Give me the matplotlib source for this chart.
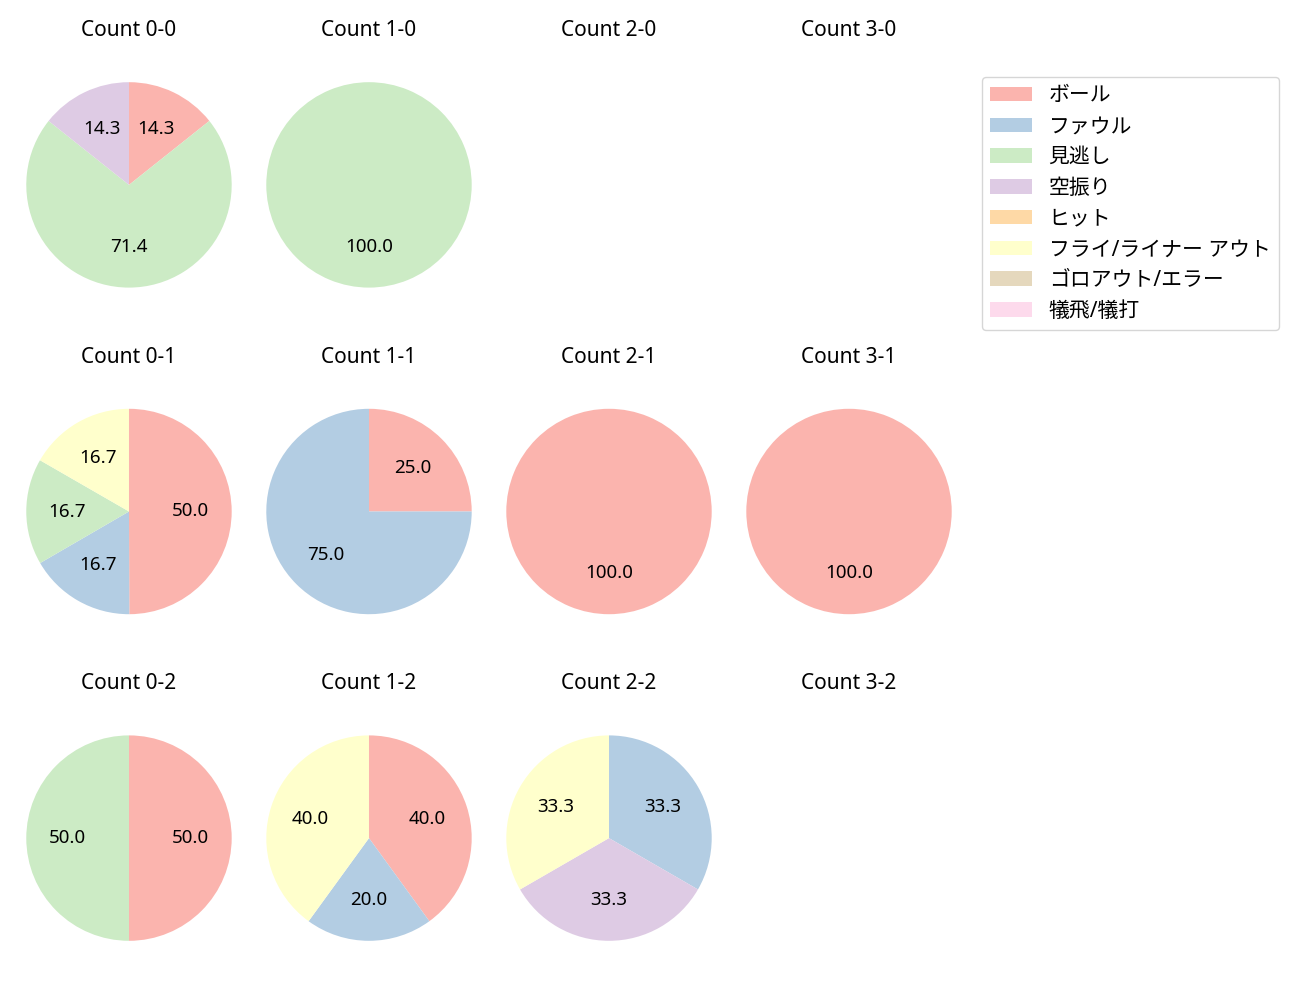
import matplotlib
matplotlib.use("Agg")
import matplotlib.pyplot as plt
from matplotlib.patches import Patch

plt.rcParams['font.family'] = ['Noto Sans', 'Noto Sans CJK JP', 'DejaVu Sans']

categories = ['ボール', 'ファウル', '見逃し', '空振り', 'ヒット',
              'フライ/ライナー アウト', 'ゴロアウト/エラー', '犠飛/犠打']
colors = plt.get_cmap('Pastel1').colors[:8]

balls = [0, 1, 2, 3]
strikes = [0, 1, 2]

# percentages per count "balls-strikes", in category order
count_values = {
    '0-0': [14.3, 0, 71.4, 14.3, 0, 0, 0, 0],
    '1-0': [0, 0, 100.0, 0, 0, 0, 0, 0],
    '2-0': None,
    '3-0': None,
    '0-1': [50.0, 16.7, 16.7, 0, 0, 16.7, 0, 0],
    '1-1': [25.0, 75.0, 0, 0, 0, 0, 0, 0],
    '2-1': [100.0, 0, 0, 0, 0, 0, 0, 0],
    '3-1': [100.0, 0, 0, 0, 0, 0, 0, 0],
    '0-2': [50.0, 0, 50.0, 0, 0, 0, 0, 0],
    '1-2': [40.0, 20.0, 0, 0, 0, 40.0, 0, 0],
    '2-2': [0, 33.3, 0, 33.3, 0, 33.3, 0, 0],
    '3-2': None,
}

fig = plt.figure(figsize=(13, 10), dpi=100)
gs = fig.add_gridspec(3, 4, left=0.0146, right=0.7377, top=0.925, bottom=0.052,
                      wspace=0.0909, hspace=0.486)

for r, s in enumerate(strikes):
    for c, b in enumerate(balls):
        ax = fig.add_subplot(gs[r, c])
        key = f'{b}-{s}'
        ax.set_title(f'Count {key}', fontsize=15, pad=28)
        vals = count_values[key]
        if vals is not None:
            idx = [i for i, v in enumerate(vals) if v > 0]
            ax.pie([vals[i] for i in idx], colors=[colors[i] for i in idx],
                   startangle=90, counterclock=False, autopct='%.1f',
                   textprops={'fontsize': 13.5})
        ax.set_xlim(-1.07, 1.07)
        ax.set_ylim(-1.07, 1.07)
        ax.set_aspect('equal')
        ax.axis('off')

handles = [Patch(facecolor=col, label=lab) for col, lab in zip(colors, categories)]
fig.legend(handles=handles, loc='upper left', bbox_to_anchor=(0.7554, 0.923),
           borderaxespad=0, fontsize=15, handlelength=2.0, handleheight=0.7,
           labelspacing=0.47)

fig.savefig('out.png', dpi=100)
